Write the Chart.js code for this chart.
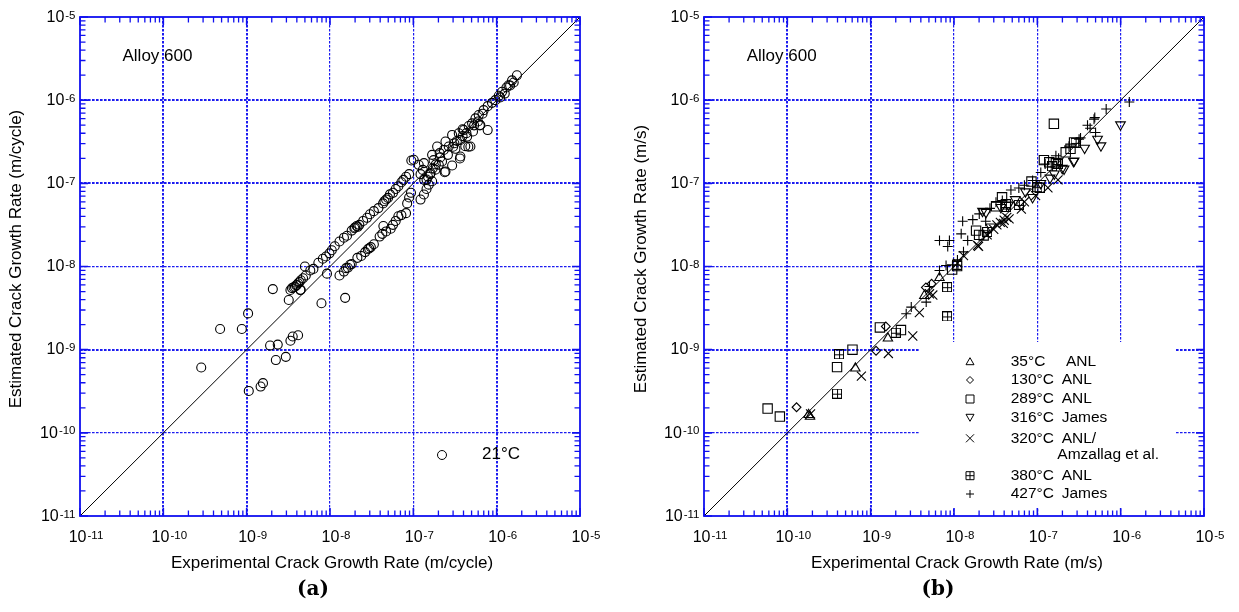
<!DOCTYPE html>
<html>
<head>
<meta charset="utf-8">
<script src="https://cdn.jsdelivr.net/npm/chart.js@4.4.1/dist/chart.umd.min.js"></script>
<style>
html,body{margin:0;padding:0;background:#fff;}
#wrap{position:relative;width:1239px;height:612px;overflow:hidden;background:#fff;}
#ca{position:absolute;left:0;top:0;}
#cb{position:absolute;left:620px;top:0;}
</style>
</head>
<body>
<div id="wrap">
<canvas id="ca" width="620" height="612"></canvas>
<canvas id="cb" width="619" height="612"></canvas>
</div>
<script>
// ---------------- DATA ----------------
const decades = [1e-11, 1e-10, 1e-9, 1e-8, 1e-7, 1e-6, 1e-5];
const decadeExponents = ['-11', '-10', '-9', '-8', '-7', '-6', '-5'];
const parityLine = [1e-11, 1e-5];

// Panel (a): Alloy 600, 21°C  [experimental, estimated] (m/cycle)
const alloy600_21C = [
  [2.85e-10,6.1e-10],[4.8e-10,1.77e-9],[8.75e-10,1.77e-9],[1.04e-9,2.73e-9],[1.06e-9,3.19e-10],
  [1.47e-9,3.6e-10],[1.57e-9,3.96e-10],[1.91e-9,1.12e-9],[2.06e-9,5.35e-9],[2.24e-9,7.5e-10],
  [2.36e-9,1.15e-9],[2.95e-9,8.2e-10],[3.2e-9,3.95e-9],[3.35e-9,1.28e-9],[3.57e-9,1.44e-9],
  [4.14e-9,1.49e-9],[4.41e-9,5.2e-9],[7.9e-9,3.62e-9],[9.2e-9,8.2e-9],[1.52e-8,4.2e-9],
  [3.35e-9,5.22e-9],[3.5e-9,5.5e-9],[3.65e-9,5.63e-9],[3.8e-9,5.7e-9],[3.93e-9,5.94e-9],
  [4.0e-9,6.0e-9],[4.14e-9,6.28e-9],[4.3e-9,6.5e-9],[4.45e-9,5.25e-9],[4.46e-9,6.84e-9],
  [4.75e-9,7.22e-9],[5.0e-9,1.0e-8],[5.12e-9,7.8e-9],[5.8e-9,8.97e-9],[6.32e-9,9.36e-9],
  [7.25e-9,1.11e-8],[8.2e-9,1.24e-8],[8.95e-9,1.32e-8],[9.85e-9,1.44e-8],[1.05e-8,1.57e-8],
  [1.14e-8,1.75e-8],[1.3e-8,2.0e-8],[1.47e-8,2.22e-8],[1.6e-8,2.34e-8],[1.82e-8,2.7e-8],
  [1.96e-8,2.88e-8],[2.0e-8,2.95e-8],[2.09e-8,3.07e-8],[2.15e-8,3.0e-8],[2.25e-8,3.17e-8],
  [2.5e-8,3.53e-8],[2.78e-8,3.85e-8],[3.02e-8,4.25e-8],[3.36e-8,4.63e-8],[3.81e-8,5.04e-8],
  [4.33e-8,5.74e-8],[4.5e-8,6.1e-8],[4.71e-8,6.4e-8],[4.97e-8,6.68e-8],[5.24e-8,7.36e-8],
  [5.7e-8,7.69e-8],[6.14e-8,8.56e-8],[6.61e-8,9.23e-8],[7.19e-8,1.03e-7],[7.59e-8,1.1e-7],
  [8.17e-8,1.2e-7],[8.9e-8,1.29e-7],[9.46e-8,1.88e-7],
  [1.3e-8,7.8e-9],[1.47e-8,8.69e-9],[1.56e-8,9.55e-9],[1.64e-8,9.66e-9],[1.74e-8,1.05e-8],
  [1.82e-8,1.07e-8],[2.13e-8,1.27e-8],[2.37e-8,1.34e-8],[2.64e-8,1.49e-8],[2.84e-8,1.61e-8],
  [2.95e-8,1.65e-8],[3.09e-8,1.71e-8],[3.36e-8,1.85e-8],[3.94e-8,2.29e-8],[4.24e-8,2.47e-8],
  [4.37e-8,3.07e-8],[4.71e-8,2.64e-8],[5.35e-8,2.84e-8],[5.7e-8,3.17e-8],[6.14e-8,3.53e-8],
  [6.61e-8,4.02e-8],[7.19e-8,4.15e-8],[8.17e-8,4.38e-8],[8.43e-8,5.74e-8],[8.9e-8,6.75e-8],
  [9.37e-8,7.69e-8],
  [1.22e-7,6.38e-8],[1.34e-7,7.33e-8],[1.44e-7,8.55e-8],[1.53e-7,9.64e-8],[1.68e-7,1.06e-7],
  [1.44e-7,1.11e-7],[1.61e-7,1.33e-7],[1.84e-7,1.46e-7],[2.02e-7,1.67e-7],[2.21e-7,1.83e-7],
  [2.43e-7,1.39e-7],[2.92e-7,1.64e-7],[3.67e-7,2.1e-7],[4.84e-7,2.77e-7],[7.8e-7,4.37e-7],
  [1.01e-7,1.92e-7],[1.16e-7,1.67e-7],[1.34e-7,1.75e-7],[1.68e-7,2.2e-7],[1.93e-7,2.77e-7],
  [2.07e-7,2.31e-7],[2.32e-7,2.52e-7],[2.43e-7,3.18e-7],[2.66e-7,2.77e-7],[2.92e-7,3.82e-7],
  [3.11e-7,3.03e-7],[3.51e-7,4.0e-7],[3.67e-7,3.33e-7],[4.03e-7,4.37e-7],[4.42e-7,3.65e-7],
  [4.62e-7,4.89e-7],[5.07e-7,5.26e-7],[5.56e-7,6.04e-7],[6.09e-7,6.62e-7],[6.37e-7,5.03e-7],
  [6.98e-7,7.59e-7],[7.8e-7,8.47e-7],[8.79e-7,9.29e-7],[9.64e-7,1.0e-6],[1.06e-6,1.13e-6],
  [1.16e-6,1.26e-6],[1.31e-6,1.42e-6],[1.39e-6,1.51e-6],[1.53e-6,1.73e-6],[1.6e-6,1.63e-6],
  [1.75e-6,1.99e-6],
  [1.22e-7,1.29e-7],[1.35e-7,1.1e-7],[1.59e-7,1.29e-7],[1.71e-7,1.52e-7],[1.86e-7,1.69e-7],
  [2.38e-7,1.36e-7],[3.0e-7,2.75e-7],[3.33e-7,3.23e-7],[3.62e-7,1.99e-7],[3.9e-7,4.47e-7],
  [4.34e-7,4.01e-7],[4.57e-7,2.75e-7],[5.36e-7,4.98e-7],[5.96e-7,5.54e-7],[6.28e-7,4.98e-7],
  [6.76e-7,6.87e-7],[1.3e-7,1.45e-7],[1.5e-7,1.2e-7],[1.75e-7,1.9e-7],[2.1e-7,2.05e-7],
  [2.6e-7,2.2e-7],[3.2e-7,2.6e-7],[3.9e-7,3.7e-7],[4.2e-7,2.8e-7],[5.2e-7,4.2e-7],
  [1.1e-6,1.08e-6],[1.25e-6,1.2e-6],[1.45e-6,1.5e-6]
];

// Panel (b): Alloy 600, by temperature  [experimental, estimated] (m/s)
const b35C_ANL = [
  [1.87e-10,1.57e-10],[1.8e-10,1.65e-10],[6.55e-10,5.97e-10],[1.61e-9,1.37e-9],
  [4.4e-9,4.45e-9],[6.7e-9,7.3e-9]
];
const b130C_ANL = [
  [1.29e-10,2.03e-10],[1.16e-9,9.7e-10],[1.52e-9,1.9e-9],[5.38e-9,6.2e-9],[4.6e-9,5.6e-9]
];
const b289C_ANL = [
  [5.8e-11,1.96e-10],[8.13e-11,1.57e-10],[3.95e-10,6.17e-10],[6.05e-10,1.0e-9],[1.29e-9,1.85e-9],
  [2.31e-9,1.72e-9],[1.58e-7,5.2e-7],[1.09e-8,1.01e-8],[9.5e-9,9.2e-9],[1.84e-8,2.7e-8],
  [2.0e-8,2.4e-8],[2.27e-8,2.36e-8],[3.2e-8,5.3e-8],[3.77e-8,6.79e-8],[4.2e-8,5.6e-8],
  [8.5e-8,1.05e-7],[1.07e-7,8.85e-8],[1.2e-7,1.9e-7],[1.39e-7,1.79e-7],[1.67e-7,1.74e-7],
  [2.19e-7,2.36e-7],[2.5e-7,2.6e-7],[2.76e-7,3.1e-7]
];
const b316C_James = [
  [9.95e-7,5.08e-7],[5.8e-7,2.84e-7],[5.28e-7,3.41e-7],[3.69e-7,2.66e-7],[2.72e-7,1.84e-7],
  [2.76e-7,1.87e-7],[2.09e-7,1.49e-7],[1.99e-7,1.52e-7],[1.6e-7,1.3e-7],[1.42e-7,1.16e-7],
  [1.1e-7,1.0e-7],[8.77e-8,6.79e-8],[7.2e-8,7.94e-8],[5.43e-8,6.4e-8],[4.5e-8,5.5e-8],
  [3.66e-8,5.15e-8],[2.76e-8,3.0e-8],[2.42e-8,4.49e-8],[2.2e-8,4.63e-8]
];
const b320C_ANL_Amzallag = [
  [1.9e-10,1.69e-10],[7.74e-10,4.81e-10],[1.63e-9,9.0e-10],[3.2e-9,1.46e-9],[3.84e-9,2.79e-9],
  [5.08e-9,4.7e-9],[5.57e-9,4.54e-9],[1.1e-8,1.1e-8],[1.3e-8,1.35e-8],[1.92e-8,1.79e-8],
  [1.97e-8,1.75e-8],[2.5e-8,2.4e-8],[3.0e-8,2.8e-8],[3.27e-8,3.17e-8],[3.6e-8,3.4e-8],
  [3.9e-8,3.3e-8],[4.0e-8,3.6e-8],[4.3e-8,3.9e-8],[4.58e-8,3.73e-8],[6.43e-8,4.89e-8],
  [7.0e-8,6.0e-8],[9.53e-8,7.13e-8],[1.34e-7,8.85e-8],[1.77e-7,1.1e-7]
];
const b380C_ANL = [
  [4.17e-10,8.8e-10],[3.95e-10,2.96e-10],[2.0e-9,1.6e-9],[8.26e-9,5.64e-9],[8.26e-9,2.51e-9],
  [1.1e-8,1.05e-8],[2.5e-8,2.6e-8],[4.2e-8,5.2e-8],[6.0e-8,5.5e-8],[1.0e-7,9.0e-8],
  [1.5e-7,1.6e-7],[1.75e-7,1.71e-7],[2.88e-7,3.06e-7]
];
const b427C_James = [
  [1.27e-6,9.5e-7],[6.7e-7,7.83e-7],[4.89e-7,6.17e-7],[4.79e-7,5.91e-7],[5.0e-7,4.09e-7],
  [4.3e-7,4.6e-7],[4.0e-7,5.0e-7],[3.3e-7,3.52e-7],[3.17e-7,3.4e-7],[2.4e-7,2.8e-7],
  [1.8e-7,2.0e-7],[1.67e-7,2.15e-7],[1.24e-7,1.71e-7],[1.1e-7,1.35e-7],[8.77e-8,1.08e-7],
  [7.0e-8,9.5e-8],[6.0e-8,8.8e-8],[4.82e-8,8.32e-8],[3.8e-8,6.2e-8],[3.19e-8,5.92e-8],
  [2.7e-8,5.0e-8],[2.4e-8,3.5e-8],[2.01e-8,4.29e-8],[1.68e-8,3.66e-8],[1.27e-8,3.5e-8],
  [1.46e-8,2.05e-8],[1.22e-8,2.47e-8],[1.3e-8,1.5e-8],[1.1e-8,1.2e-8],[8.81e-9,2.05e-8],
  [8.41e-9,1.74e-8],[6.7e-9,2.05e-8],[8.03e-9,1.03e-8],[6.7e-9,8.95e-9],[5.08e-9,5.75e-9],
  [4.64e-9,3.73e-9],[3.07e-9,3.25e-9],[2.67e-9,2.7e-9]
];

// Text
const panelLabels = ['(a)', '(b)'];
const alloyLabel = 'Alloy 600';
const xTitles = ['Experimental Crack Growth Rate (m/cycle)', 'Experimental Crack Growth Rate (m/s)'];
const yTitles = ['Estimated Crack Growth Rate (m/cycle)', 'Estimated Crack Growth Rate (m/s)'];
const legendA = ['21°C'];
const legendBTemps = ['35°C', '130°C', '289°C', '316°C', '320°C', '380°C', '427°C'];
const legendBSources = ['ANL', 'ANL', 'ANL', 'James', 'ANL/', 'ANL', 'James'];
const legendBExtra = 'Amzallag et al.';

// ---------------- RENDERING ----------------
const FONT = "'Liberation Sans', Arial, Helvetica, sans-serif";
const BLUE = '#1010f0';
const GRID = '#1c1cf0';

function pts(arr) { return arr.map(p => ({ x: p[0], y: p[1] })); }

function boxPlusImage(size) {
  const c = document.createElement('canvas');
  c.width = size; c.height = size;
  const g = c.getContext('2d');
  g.strokeStyle = '#000'; g.lineWidth = 1;
  g.strokeRect(0.5, 0.5, size - 1, size - 1);
  const m = Math.floor(size / 2) + 0.5;
  g.beginPath();
  g.moveTo(m, 0.5); g.lineTo(m, size - 0.5);
  g.moveTo(0.5, m); g.lineTo(size - 0.5, m);
  g.stroke();
  return c;
}
const boxPlus = boxPlusImage(10);

function drawSymbol(ctx, kind, x, y, s) {
  ctx.save();
  ctx.strokeStyle = '#000'; ctx.lineWidth = 1;
  ctx.beginPath();
  const h = s / 2;
  if (kind === 'circle') { ctx.arc(x, y, h, 0, Math.PI * 2); }
  else if (kind === 'triangle') { ctx.moveTo(x, y - h); ctx.lineTo(x + h, y + h * 0.75); ctx.lineTo(x - h, y + h * 0.75); ctx.closePath(); }
  else if (kind === 'invtri') { ctx.moveTo(x, y + h); ctx.lineTo(x + h, y - h * 0.75); ctx.lineTo(x - h, y - h * 0.75); ctx.closePath(); }
  else if (kind === 'diamond') { ctx.moveTo(x, y - h); ctx.lineTo(x + h, y); ctx.lineTo(x, y + h); ctx.lineTo(x - h, y); ctx.closePath(); }
  else if (kind === 'square') { ctx.rect(x - h, y - h, s, s); }
  else if (kind === 'x') { ctx.moveTo(x - h, y - h); ctx.lineTo(x + h, y + h); ctx.moveTo(x + h, y - h); ctx.lineTo(x - h, y + h); }
  else if (kind === 'plus') { ctx.moveTo(x - h, y); ctx.lineTo(x + h, y); ctx.moveTo(x, y - h); ctx.lineTo(x, y + h); }
  else if (kind === 'boxplus') { ctx.rect(x - h, y - h, s, s); ctx.moveTo(x - h, y); ctx.lineTo(x + h, y); ctx.moveTo(x, y - h); ctx.lineTo(x, y + h); }
  ctx.stroke();
  ctx.restore();
}

const BASE_PX = 16, EXP_PX = 11.5;
function drawPow(ctx, xLeft, yMid, exp) {
  ctx.font = BASE_PX + 'px ' + FONT;
  const wb = ctx.measureText('10').width;
  ctx.textAlign = 'left'; ctx.textBaseline = 'alphabetic';
  ctx.fillText('10', xLeft, yMid + 5.7);
  ctx.font = EXP_PX + 'px ' + FONT;
  ctx.fillText(exp, xLeft + wb + 1, yMid + 2.5);
}
function powWidth(ctx, exp) {
  ctx.font = BASE_PX + 'px ' + FONT;
  const wb = ctx.measureText('10').width;
  ctx.font = EXP_PX + 'px ' + FONT;
  return wb + 1 + ctx.measureText(exp).width;
}

const decoPlugin = {
  id: 'deco',
  beforeDatasetsDraw(chart, args, o) {
    if (o.legendBox) {
      const ctx = chart.ctx, b = o.legendBox;
      ctx.save(); ctx.fillStyle = '#fff'; ctx.fillRect(b.x, b.y, b.w, b.h); ctx.restore();
    }
  },
  afterDraw(chart, args, o) {
    const ctx = chart.ctx, a = chart.chartArea, xs = chart.scales.x, ys = chart.scales.y;
    ctx.save();
    // minor ticks
    ctx.strokeStyle = BLUE; ctx.lineWidth = 1.3;
    ctx.beginPath();
    for (let d = 0; d < decades.length - 1; d++) {
      for (let k = 2; k <= 9; k++) {
        const v = decades[d] * k;
        const px = xs.getPixelForValue(v), py = ys.getPixelForValue(v);
        ctx.moveTo(px, a.bottom); ctx.lineTo(px, a.bottom - 5.5);
        ctx.moveTo(px, a.top); ctx.lineTo(px, a.top + 5.5);
        ctx.moveTo(a.left, py); ctx.lineTo(a.left + 5.5, py);
        ctx.moveTo(a.right, py); ctx.lineTo(a.right - 5.5, py);
      }
    }
    ctx.stroke();
    // major ticks
    ctx.lineWidth = 1.6;
    ctx.beginPath();
    decades.forEach(v => {
      const px = xs.getPixelForValue(v), py = ys.getPixelForValue(v);
      ctx.moveTo(px, a.bottom); ctx.lineTo(px, a.bottom - 8);
      ctx.moveTo(px, a.top); ctx.lineTo(px, a.top + 8);
      ctx.moveTo(a.left, py); ctx.lineTo(a.left + 8, py);
      ctx.moveTo(a.right, py); ctx.lineTo(a.right - 8, py);
    });
    ctx.stroke();
    // frame
    ctx.lineWidth = 1.8;
    ctx.strokeRect(a.left, a.top, a.right - a.left, a.bottom - a.top);

    // tick labels
    ctx.fillStyle = '#000';
    decades.forEach((v, i) => {
      const exp = decadeExponents[i];
      const w = powWidth(ctx, exp);
      const py = ys.getPixelForValue(v);
      drawPow(ctx, a.left - 4.5 - w, py - 1, exp);
      const px = xs.getPixelForValue(v);
      drawPow(ctx, px + 6 - w / 2, 536, exp);
    });

    // axis titles
    ctx.font = '17px ' + FONT;
    ctx.textAlign = 'center'; ctx.textBaseline = 'middle';
    ctx.fillText(o.xTitle, o.xTitleX, 563);
    ctx.save();
    ctx.translate(o.yTitleX, 259);
    ctx.rotate(-Math.PI / 2);
    ctx.fillText(o.yTitle, 0, 0);
    ctx.restore();

    // panel label
    ctx.font = 'bold 20px "DejaVu Serif", "Liberation Serif", serif';
    ctx.fillText(o.panel, o.panelX, 590);

    // Alloy 600
    ctx.font = '17px ' + FONT;
    ctx.textAlign = 'left';
    ctx.fillText(alloyLabel, o.alloyX, 56);

    // legend
    if (o.legend === 'A') {
      drawSymbol(ctx, 'circle', 442, 455, 9);
      ctx.font = '17px ' + FONT;
      ctx.textAlign = 'left'; ctx.textBaseline = 'middle';
      ctx.fillStyle = '#000';
      ctx.fillText(legendA[0], 482, 454);
    } else if (o.legend === 'B') {
      const kinds = ['triangle', 'diamond', 'square', 'invtri', 'x', 'boxplus', 'plus'];
      const sizes = [8, 7, 8, 8, 8, 8, 8];
      const rowsY = [361.7, 380, 399, 417.3, 438.3, 475.7, 494];
      const off = 620;
      ctx.font = '15.5px ' + FONT;
      ctx.textAlign = 'left'; ctx.textBaseline = 'middle';
      ctx.fillStyle = '#000';
      kinds.forEach((k, i) => {
        drawSymbol(ctx, k, 970 - off, rowsY[i], sizes[i]);
        ctx.fillText(legendBTemps[i], 1010.7 - off, rowsY[i]);
        ctx.fillText(legendBSources[i], (i === 0 ? 1066 : 1061.7) - off, rowsY[i]);
      });
      ctx.fillText(legendBExtra, 1057.3 - off, 455);
    }
    ctx.restore();
  }
};

function gridWidth(thick) {
  return c => {
    if (!c.tick) return 0;
    const e = Math.round(Math.log10(c.tick.value));
    if (e <= -11 || e >= -5) return 0;
    return thick.indexOf(e) >= 0 ? 2.0 : 1.2;
  };
}

function makeChart(id, series, deco, layout) {
  const datasets = [{
    data: [{ x: parityLine[0], y: parityLine[0] }, { x: parityLine[1], y: parityLine[1] }],
    showLine: true, borderColor: '#000', borderWidth: 1, pointRadius: 0, fill: false
  }].concat(series);
  return new Chart(document.getElementById(id), {
    type: 'scatter',
    data: { datasets },
    options: {
      responsive: false, animation: false, events: [], devicePixelRatio: 1,
      layout: { padding: { top: 17, right: layout.padRight, left: 0, bottom: 0 } },
      plugins: { legend: { display: false }, tooltip: { enabled: false }, deco },
      scales: {
        x: {
          type: 'logarithmic', min: 1e-11, max: 1e-5,
          afterBuildTicks: s => { s.ticks = decades.map(v => ({ value: v })); },
          afterFit: s => { s.height = 96; },
          ticks: { display: false, autoSkip: false },
          grid: { color: GRID, lineWidth: gridWidth(layout.xThick), drawTicks: false },
          border: { display: false, dash: [2.6, 1.4] }
        },
        y: {
          type: 'logarithmic', min: 1e-11, max: 1e-5,
          afterBuildTicks: s => { s.ticks = decades.map(v => ({ value: v })); },
          afterFit: s => { s.width = layout.yWidth; },
          ticks: { display: false, autoSkip: false },
          grid: { color: GRID, lineWidth: gridWidth([-6, -7, -9]), drawTicks: false },
          border: { display: false, dash: [2.6, 1.4] }
        }
      }
    },
    plugins: [decoPlugin]
  });
}

const base = { backgroundColor: 'rgba(0,0,0,0)', borderColor: '#000', borderWidth: 1.1 };

makeChart('ca', [
  Object.assign({ data: pts(alloy600_21C), pointStyle: 'circle', pointRadius: 4.5 }, base)
], {
  xTitle: xTitles[0], xTitleX: 332, yTitle: yTitles[0], yTitleX: 16,
  panel: panelLabels[0], panelX: 313, alloyX: 122.5, legend: 'A'
}, { padRight: 40, yWidth: 80, xThick: [-10, -9, -6] });

makeChart('cb', [
  Object.assign({ data: pts(b35C_ANL), pointStyle: 'triangle', pointRadius: 5.4 }, base),
  Object.assign({ data: pts(b130C_ANL), pointStyle: 'rectRot', pointRadius: 4.4 }, base),
  Object.assign({ data: pts(b289C_ANL), pointStyle: 'rect', pointRadius: 6.6 }, base),
  Object.assign({ data: pts(b316C_James), pointStyle: 'triangle', pointRotation: 180, pointRadius: 5.6 }, base),
  Object.assign({ data: pts(b320C_ANL_Amzallag), pointStyle: 'crossRot', pointRadius: 6.4 }, base),
  Object.assign({ data: pts(b380C_ANL), pointStyle: boxPlus, pointRadius: 5 }, base),
  Object.assign({ data: pts(b427C_James), pointStyle: 'cross', pointRadius: 5 }, base)
], {
  xTitle: xTitles[1], xTitleX: 957 - 620, yTitle: yTitles[1], yTitleX: 641 - 620,
  panel: panelLabels[1], panelX: 938 - 620, alloyX: 746.7 - 620, legend: 'B',
  legendBox: { x: 920 - 620, y: 342, w: 255, h: 166 }
}, { padRight: 35, yWidth: 84, xThick: [-10, -9] });
</script>
</body>
</html>
